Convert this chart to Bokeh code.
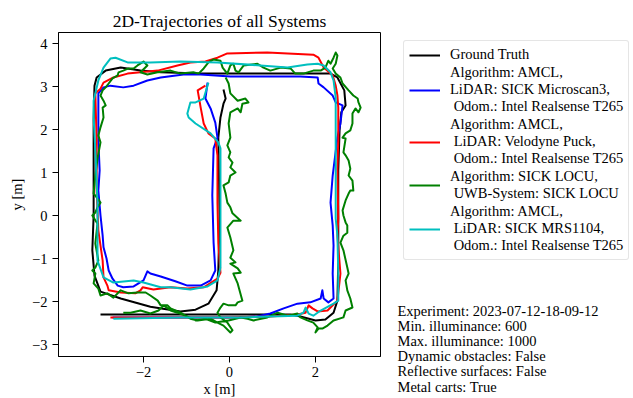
from bokeh.plotting import figure
from bokeh.models import Range1d, FixedTicker, Legend, LegendItem, Label
from bokeh.layouts import row, column
from bokeh.embed import file_html
from bokeh.resources import INLINE

FONT = "Liberation Serif"
NAN = float("nan")

# ---------------- data (metres) ----------------
x_ticks = [-2, 0, 2]
x_tick_labels = ["\u22122", "0", "2"]
y_ticks = [-3, -2, -1, 0, 1, 2, 3, 4]
y_tick_labels = ["\u22123", "\u22122", "\u22121", "0", "1", "2", "3", "4"]

# Ground Truth
gt_x = [-0.14, -0.09, -0.14, -0.21, -0.26, -0.23, -0.26, -0.30, -0.49, -0.79,
        -1.14, -1.84, -2.53, -3.00, -3.14, -3.19, -3.16, -3.16, -3.16, -3.14,
        -3.09, -2.88, -2.53, -2.07, -1.60, -0.67, 0.49, 1.65, 2.35, 2.51,
        2.67, 2.70, 2.60, 2.56, 2.53, 2.53, 2.53, 2.51, 2.42, 2.23,
        2.00, 1.65, 1.42, 0.49, -0.67, -1.84, -3.00]
gt_y = [2.93, 2.72, 2.60, 2.28, 1.81, 0.00, -1.28, -1.74, -2.05, -2.19,
        -2.23, -2.12, -1.93, -1.77, -1.40, -0.81, 0.00, 1.05, 2.21, 3.02,
        3.21, 3.37, 3.44, 3.37, 3.33, 3.30, 3.30, 3.30, 3.30, 3.21,
        2.91, 2.56, 2.40, 1.98, 1.05, 0.00, -1.05, -1.98, -2.26, -2.42,
        -2.44, -2.35, -2.30, -2.30, -2.30, -2.30, -2.30]

# AMCL, SICK Microscan3
ms3_x = [-0.51, -0.56, -0.44, -0.33, -0.28, -0.37, -0.40, -0.37, -0.33, -0.44,
         -0.67, -0.98, -1.26, -1.60, -1.84, -1.91, -2.00, -2.23, -2.47, -2.60,
         -2.72, -2.81, -2.86, -2.93, -2.95, -3.00, -3.05, -3.02, -3.05, -3.05,
         -3.05, -2.93, -2.77, -2.47, -2.23, -1.91, -1.60, -1.07, -0.67, 0.02,
         0.72, 1.65, 2.05, 2.07, 2.19, 2.40, 2.47, 2.63, 2.58, 2.51,
         2.40, 2.35, 2.40, 2.42, 2.40, 2.42, 2.30, 2.19, 2.16, 2.12,
         1.88, 1.58, 1.26, 0.95, 0.65, 0.19, -0.67, -1.84, -2.72]
ms3_y = [3.09, 2.72, 2.49, 2.16, 1.81, 1.56, 0.47, -0.63, -1.28, -1.51,
         -1.63, -1.63, -1.53, -1.42, -1.35, -1.30, -1.51, -1.65, -1.67, -1.63,
         -1.47, -1.28, -1.00, -0.74, -0.47, 0.00, 0.58, 1.05, 1.74, 2.44,
         2.84, 2.98, 3.02, 2.98, 3.02, 3.14, 3.21, 3.28, 3.28, 3.23,
         3.23, 3.23, 3.21, 3.07, 2.98, 2.79, 2.63, 2.56, 2.14, 1.81,
         0.93, 0.30, -0.23, -0.70, -1.35, -1.93, -2.02, -1.93, -1.74, -1.93,
         -2.02, -2.05, -2.16, -2.28, -2.35, -2.37, -2.37, -2.37, -2.37]

# AMCL, Velodyne Puck
vel_x = [-0.56, -0.74, -0.67, -0.60, -0.49, -0.33, -0.28, -0.28, -0.26, -0.21,
         -0.28, -0.60, -0.98, -1.37, -1.77, -2.02, -2.07, -2.19, -2.53, -2.81,
         -2.84, -2.93, -2.95, -3.05, -3.09, -3.09, -3.12, -3.00, -2.93, -2.70,
         -2.37, -2.07, -1.67, -1.21, -0.91, -0.56, -0.28, -0.05, 0.88, 1.95,
         2.07, 2.19, 2.40, 2.47, 2.51, 2.53, 2.53, 2.51, 2.53, 2.51,
         2.58, 2.51, 2.28, 2.05, 1.93, 1.84, 1.77, 1.58, 0.95, 0.02,
         -1.14, -2.77]
vel_y = [3.02, 2.91, 2.51, 2.14, 1.91, 1.79, 1.40, 0.30, -0.63, -1.33,
         -1.47, -1.67, -1.70, -1.67, -1.72, -1.67, -1.74, -1.81, -1.79, -1.74,
         -1.63, -1.44, -1.05, -0.35, 0.58, 1.74, 2.84, 2.95, 3.09, 3.21,
         3.30, 3.33, 3.37, 3.49, 3.56, 3.58, 3.67, 3.77, 3.79, 3.74,
         3.67, 3.44, 3.26, 3.02, 2.79, 2.51, 1.74, 1.09, -0.07, -0.47,
         -1.35, -1.98, -2.21, -2.23, -2.16, -2.09, -2.26, -2.30, -2.35, -2.37,
         -2.37, -2.37]

# SICK LOCU, UWB
locu_x = [-0.09, -0.02, 0.02, 0.19, 0.37, 0.44, 0.30, 0.26, 0.19, 0.02,
          -0.02, 0.02, -0.05, 0.02, -0.02, 0.07, 0.02, 0.14, 0.02, -0.02,
          -0.14, -0.09, -0.05, 0.02, 0.07, 0.26, 0.09, -0.05, 0.02, 0.09,
          0.02, 0.14, 0.02, 0.19, 0.26, 0.09, 0.19, 0.30, 0.19, 0.14,
          -0.02, -0.14, -0.21, -0.28, -0.21, -0.05, 0.07, 0.02, -0.14, -0.28,
          -0.44, -0.74, -0.91, -1.14, -1.37, -1.44, -1.60, -1.67, -1.84, -1.95,
          -2.14, -2.35, -2.53, -2.70, -2.84, -3.00, -3.05, -3.16, -3.12, -3.19,
          -3.12, -3.05, -3.12, -3.07, -3.19, -3.12, -3.07, -3.00, -3.07, -3.16,
          -3.12, -3.07, -3.00, -3.05, -3.00, -2.93, -2.95, -2.88, -2.93, -3.00,
          -2.95, -2.88, -2.81, -2.72, -2.60, -2.58, -2.47, -2.35, -2.23, -2.14,
          -2.00, -1.91, -2.07, -1.91, -1.67, -1.37, -1.14, -0.84, -0.72, -0.60,
          -0.49, -0.37, -0.21, -0.16, -0.05, 0.02, 0.09, 0.14, 0.21, 0.33,
          0.65, 0.79, 0.95, 1.19, 1.42, 1.53, 1.72, 1.95, 2.12, 2.23,
          2.30, 2.35, 2.42, 2.47, 2.51, 2.47, 2.40, 2.47, 2.58, 2.63,
          2.77, 2.88, 2.98, 3.00, 3.05, 3.00, 2.93, 2.86, 2.86, 2.81,
          2.70, 2.63, 2.70, 2.65, 2.70, 2.77, 2.81, 2.77, 2.86, 2.88,
          2.81, 2.77, 2.70, 2.63, 2.65, 2.70, 2.74, 2.74, 2.65, 2.58,
          2.65, 2.74, 2.77, 2.70, 2.74, 2.81, 2.86, 2.70, 2.65, 2.42,
          2.28, 2.16, 2.07, 2.00, 2.05, 1.95, 1.81, 1.65, 1.58, 1.35,
          1.12, 0.88, 0.56, 0.42, 0.26, -0.02, -0.33, -0.56, -0.79, -1.02,
          -1.21, -1.37, -1.53, -1.65, -1.84, -2.07, -2.30, -2.47]
locu_y = [3.21, 3.07, 2.84, 2.67, 2.72, 2.63, 2.60, 2.40, 2.49, 2.40,
          2.14, 1.81, 1.63, 1.47, 1.35, 1.23, 1.12, 1.00, 0.93, 0.77,
          0.70, 0.51, 0.30, 0.19, 0.05, -0.12, -0.12, -0.28, -0.51, -0.81,
          -0.98, -1.09, -1.12, -1.23, -1.33, -1.35, -1.58, -1.98, -2.02, -2.09,
          -2.09, -2.05, -2.14, -2.26, -2.37, -2.49, -2.67, -2.72, -2.56, -2.49,
          -2.40, -2.44, -2.40, -2.26, -2.16, -2.09, -2.09, -1.98, -1.86, -1.79,
          -1.79, -1.81, -1.74, -1.91, -1.81, -1.86, -1.70, -1.58, -1.35, -1.28,
          -1.21, -1.05, -0.65, -0.19, 0.00, 0.07, 0.19, 0.30, 0.40, 0.51,
          0.93, 1.33, 1.70, 1.86, 2.05, 2.28, 2.51, 2.56, 2.67, 2.79,
          2.91, 2.98, 3.07, 3.19, 3.26, 3.33, 3.37, 3.42, 3.42, 3.49,
          3.58, 3.49, 3.33, 3.28, 3.33, 3.37, 3.30, 3.33, 3.30, 3.42,
          3.56, 3.63, 3.60, 3.44, 3.30, 3.49, 3.53, 3.37, 3.33, 3.49,
          3.53, 3.44, 3.37, 3.44, 3.42, 3.30, 3.30, 3.37, 3.37, 3.44,
          3.60, 3.53, 3.67, 3.79, 3.72, 3.53, 3.42, 3.30, 3.21, 3.07,
          2.91, 2.79, 2.72, 2.63, 2.51, 2.40, 2.49, 2.37, 2.14, 1.98,
          1.91, 1.81, 1.79, 1.47, 1.40, 1.28, 1.09, 0.93, 0.81, 0.58,
          0.58, 0.51, 0.35, 0.12, 0.00, -0.16, -0.23, -0.40, -0.47, -0.63,
          -0.81, -1.21, -1.35, -1.51, -1.74, -1.93, -2.14, -2.21, -2.37, -2.44,
          -2.56, -2.63, -2.63, -2.72, -2.60, -2.49, -2.44, -2.37, -2.28, -2.33,
          -2.26, -2.37, -2.44, -2.40, -2.37, -2.44, -2.49, -2.40, -2.44, -2.33,
          -2.26, -2.21, -2.09, -2.21, -2.28, -2.21, -2.26, -2.26]

# AMCL, SICK MRS1104
mrs_x = [-0.49, -0.60, -0.79, -0.91, -0.98, -0.95, -0.79, -0.44, -0.26, -0.21,
         -0.21, -0.21, -0.21, -0.28, -0.51, -0.91, -1.37, -1.60, -2.00, -2.23,
         -2.70, -2.93, -3.07, -3.07, -3.12, -3.16, -3.16, -3.05, -2.93, -2.77,
         -2.65, -2.37, -1.84, -1.14, -0.28, 0.72, 1.35, 1.81, 2.05, 2.19,
         2.35, 2.42, 2.47, 2.47, 2.47, 2.47, 2.51, 2.53, 2.53, 2.42,
         2.12, 1.95, 1.84, 1.77, 1.72, 1.58, 0.95, 0.19, -1.14, -2.70]
mrs_y = [3.09, 2.72, 2.63, 2.63, 2.37, 2.28, 2.14, 1.91, 1.70, 1.56,
         0.35, -0.63, -1.21, -1.51, -1.65, -1.72, -1.67, -1.67, -1.56, -1.51,
         -1.56, -1.44, -1.05, 0.30, 1.51, 2.28, 2.67, 3.14, 3.44, 3.65,
         3.67, 3.56, 3.56, 3.58, 3.56, 3.49, 3.44, 3.51, 3.53, 3.49,
         3.33, 3.14, 2.74, 1.74, 0.30, -0.07, -0.47, -1.35, -1.98, -2.05,
         -2.21, -2.33, -2.28, -2.14, -2.26, -2.33, -2.35, -2.37, -2.37, -2.40]

series_labels = [
    "Ground Truth",
    "Algorithm: AMCL,\nLiDAR: SICK Microscan3,\n Odom.: Intel Realsense T265",
    "Algorithm: AMCL,\n LiDAR: Velodyne Puck,\n Odom.: Intel Realsense T265",
    "Algorithm: SICK LOCU,\n UWB-System: SICK LOCU",
    "Algorithm: AMCL,\n LiDAR: SICK MRS1104,\n Odom.: Intel Realsense T265",
]
series_colors = ["#000000", "#0000ff", "#ff0000", "#008000", "#00bfbf"]

info_text = ("Experiment: 2023-07-12-18-09-12\n"
             "Min. illuminance: 600\n"
             "Max. illuminance: 1000\n"
             "Dynamic obstacles: False\n"
             "Reflective surfaces: False\n"
             "Metal carts: True")

# ---------------- main plot ----------------
p = figure(width=382, height=398, frame_width=322, frame_height=324,
           output_backend="svg", toolbar_location=None,
           x_range=Range1d(-3.977, 3.512), y_range=Range1d(-3.279, 4.256),
           min_border_left=58, min_border_right=2,
           min_border_top=32, min_border_bottom=42,
           background_fill_color="white", border_fill_color="white")

p.title.text = "2D-Trajectories of all Systems"
p.title.align = "center"
p.title.text_font = FONT
p.title.text_font_size = "17.5px"
p.title.text_font_style = "normal"
p.title.text_color = "black"
p.title.standoff = 3

p.xgrid.visible = False
p.ygrid.visible = False
p.outline_line_color = "black"
p.outline_line_width = 1
p.outline_line_alpha = 1

p.xaxis.ticker = FixedTicker(ticks=x_ticks)
p.yaxis.ticker = FixedTicker(ticks=y_ticks)
p.xaxis.major_label_overrides = dict(zip(x_ticks, x_tick_labels))
p.yaxis.major_label_overrides = dict(zip(y_ticks, y_tick_labels))
p.xaxis.axis_label = "x [m]"
p.yaxis.axis_label = "y [m]"
for ax in (p.xaxis[0], p.yaxis[0]):
    ax.axis_line_color = "black"
    ax.major_tick_line_color = "black"
    ax.major_tick_in = 0
    ax.major_tick_out = 6
    ax.minor_tick_line_color = None
    ax.major_label_text_font = FONT
    ax.major_label_text_font_size = "14.5px"
    ax.major_label_text_color = "black"
    ax.axis_label_text_font = FONT
    ax.axis_label_text_font_size = "14.5px"
    ax.axis_label_text_font_style = "normal"
    ax.axis_label_text_color = "black"
p.xaxis.major_label_standoff = 4
p.xaxis.axis_label_standoff = 1
p.yaxis.major_label_standoff = 5
p.yaxis.axis_label_standoff = 4

series = [(gt_x, gt_y), (ms3_x, ms3_y), (vel_x, vel_y), (locu_x, locu_y), (mrs_x, mrs_y)]
for (xs, ys), col in zip(series, series_colors):
    p.line(xs, ys, line_color=col, line_width=2, line_join="round")

# ---------------- side panel: legend + experiment info ----------------
side = figure(width=251, height=398, output_backend="svg", toolbar_location=None,
              title=None, x_axis_location=None, y_axis_location=None,
              x_range=Range1d(0, 1), y_range=Range1d(0, 1),
              min_border_left=13, min_border_right=0,
              min_border_top=32, min_border_bottom=0,
              background_fill_color="white", border_fill_color="white")
side.xgrid.visible = False
side.ygrid.visible = False
side.outline_line_color = None

# legend swatches: proxies carrying only the style (no visible data)
proxies = [side.line(x=[NAN], y=[NAN], line_color=col, line_width=2) for col in series_colors]

legend = Legend(items=[LegendItem(label=lab, renderers=[r]) for lab, r in zip(series_labels, proxies)],
                location="top_left")
legend.label_text_font = FONT
legend.label_text_font_size = "14.5px"
legend.label_text_color = "black"
legend.glyph_width = 31
legend.glyph_height = 16
legend.label_height = 16
legend.label_standoff = 10
legend.spacing = 1
legend.padding = 5
legend.margin = 8
legend.border_line_color = "#cccccc"
legend.border_line_width = 1
legend.background_fill_color = "white"
legend.background_fill_alpha = 0.8
if "border_radius" in Legend.properties():
    legend.border_radius = 3
side.add_layout(legend)

info = Label(x=2, y=96, x_units="screen", y_units="screen", text=info_text,
             text_font=FONT, text_font_size="14.5px", text_color="black",
             text_baseline="top", text_align="left", text_line_height=0.95)
side.add_layout(info)

layout = row(p, column(side))

with open("out.html", "w") as f:
    f.write(file_html(layout, INLINE))
